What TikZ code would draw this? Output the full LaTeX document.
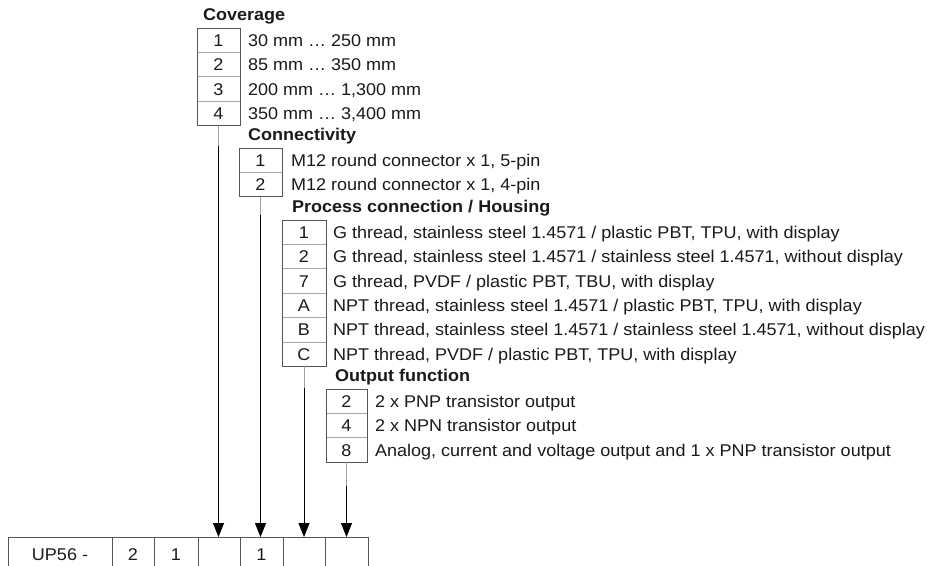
\documentclass[tikz,border=0pt]{standalone}
\usepackage{fontspec}
\setmainfont{Liberation Sans}[FakeStretch=1.06]
\usetikzlibrary{arrows.meta,calc}
\definecolor{txt}{HTML}{1A1A1A}
\definecolor{outerc}{HTML}{555555}
\definecolor{innerc}{HTML}{A8A8A8}
\definecolor{linkgray}{HTML}{A0A0A0}
\begin{document}
\begin{tikzpicture}[x=1pt,y=-1pt,
  every node/.style={font=\fontsize{17}{20}\selectfont, text=txt, inner sep=0pt, outer sep=0pt},
  cell/.style={draw=innerc, line width=0.8pt, minimum height=24.4pt, text height=12pt, text depth=0pt},
  outerbox/.style={draw=outerc, line width=1pt},
  item/.style={anchor=base west},
  head/.style={anchor=base west, font=\fontsize{17}{20}\selectfont\bfseries},
  graylink/.style={draw=linkgray, line width=1pt},
  arrowlink/.style={draw=black, line width=1pt, -{Triangle[length=14pt,width=11pt]}},
  codecell/.style={draw=outerc, line width=1pt, minimum height=34pt, text height=12pt, text depth=0pt},
]
\useasboundingbox (0,0) rectangle (928,565);
\clip (0,0) rectangle (928,565);

% ---------- Coverage ----------
\node[head] (covh) at (203,20) {Coverage};
\foreach \n/\t [count=\i] in {1/{30 mm … 250 mm}, 2/{85 mm … 350 mm}, 3/{200 mm … 1,300 mm}, 4/{350 mm … 3,400 mm}}{
  \node[cell, minimum width=43pt] (cov\i) at (218.5,{28+24.4*(\i-0.5)}) {\n};
  \node[item] (covt\i) at (248,{28+24.4*(\i-0.5)+6}) {\t};
}
\draw[outerbox] (cov1.north west) rectangle (cov4.south east);

% ---------- Connectivity ----------
\node[head] (conh) at (248,140) {Connectivity};
\foreach \n/\t [count=\i] in {1/{M12 round connector x 1, 5-pin}, 2/{M12 round connector x 1, 4-pin}}{
  \node[cell, minimum width=43pt] (con\i) at (260.5,{148+24.4*(\i-0.5)}) {\n};
  \node[item] (cont\i) at (291,{148+24.4*(\i-0.5)+6}) {\t};
}
\draw[outerbox] (con1.north west) rectangle (con2.south east);

% ---------- Process connection / Housing ----------
\node[head] (proh) at (292,212) {Process connection / Housing};
\foreach \n/\t [count=\i] in {
  1/{G thread, stainless steel 1.4571 / plastic PBT, TPU, with display},
  2/{G thread, stainless steel 1.4571 / stainless steel 1.4571, without display},
  7/{G thread, PVDF / plastic PBT, TBU, with display},
  A/{NPT thread, stainless steel 1.4571 / plastic PBT, TPU, with display},
  B/{NPT thread, stainless steel 1.4571 / stainless steel 1.4571, without display},
  C/{NPT thread, PVDF / plastic PBT, TPU, with display}}{
  \node[cell, minimum width=44pt] (pro\i) at (304,{220+24.4*(\i-0.5)}) {\n};
  \node[item] (prot\i) at (333,{220+24.4*(\i-0.5)+6}) {\t};
}
\draw[outerbox] (pro1.north west) rectangle (pro6.south east);

% ---------- Output function ----------
\node[head] (outh) at (335,381) {Output function};
\foreach \n/\t [count=\i] in {
  2/{2 x PNP transistor output},
  4/{2 x NPN transistor output},
  8/{Analog, current and voltage output and 1 x PNP transistor output}}{
  \node[cell, minimum width=41pt] (out\i) at (346.5,{389+24.4*(\i-0.5)}) {\n};
  \node[item] (outt\i) at (375,{389+24.4*(\i-0.5)+6}) {\t};
}
\draw[outerbox] (out1.north west) rectangle (out3.south east);

% ---------- Type code ----------
\node[codecell, minimum width=104pt] (b1) at (60,554) {UP56 -};
\node[codecell, minimum width=42pt] (b2) at (133,554) {2};
\node[codecell, minimum width=44pt] (b3) at (176,554) {1};
\node[codecell, minimum width=42pt] (b4) at (219,554) {};
\node[codecell, minimum width=43pt] (b5) at (261.5,554) {1};
\node[codecell, minimum width=42pt] (b6) at (304,554) {};
\node[codecell, minimum width=43pt] (b7) at (346.5,554) {};

% ---------- Connectors ----------
\coordinate (covm) at ($(cov4.south)+(0,20)$);
\coordinate (conm) at ($(con2.south)+(0,18)$);
\coordinate (prom) at ($(pro6.south)+(0,22)$);
\coordinate (outm) at ($(out3.south)+(0,24)$);
\draw[graylink] (cov4.south) -- (covm);
\draw[graylink] (con2.south) -- (conm);
\draw[graylink] (pro6.south) -- (prom);
\draw[graylink] (out3.south) -- (outm);
\draw[arrowlink] (covm) -- (covm |- b4.north);
\draw[arrowlink] (conm) -- (conm |- b5.north);
\draw[arrowlink] (prom) -- (prom |- b6.north);
\draw[arrowlink] (outm) -- (outm |- b7.north);
\end{tikzpicture}
\end{document}
